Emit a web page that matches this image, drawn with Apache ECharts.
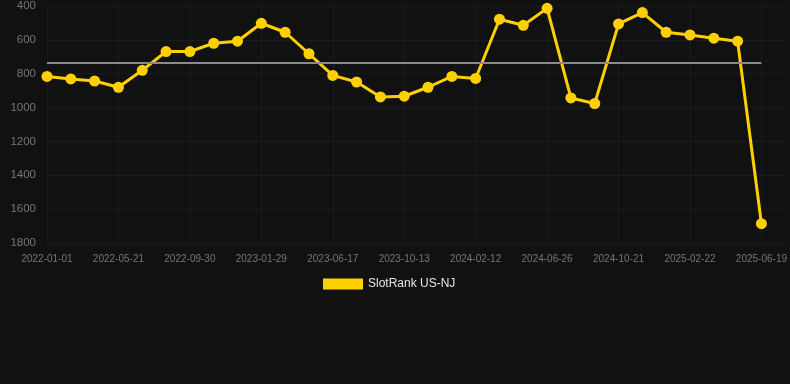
<!DOCTYPE html>
<html>
<head>
<meta charset="utf-8">
<script src="https://cdn.jsdelivr.net/npm/echarts@6/dist/echarts.min.js"></script>
<style>
html,body{margin:0;padding:0;background:#111111;}
#c{width:790px;height:384px;}
</style>
</head>
<body>
<div id="c"></div>
<script>
const categories = [
  '2022-01-01','2022-02-16','2022-04-03','2022-05-21','2022-07-04','2022-08-17',
  '2022-09-30','2022-11-09','2022-12-19','2023-01-29','2023-03-16','2023-05-01',
  '2023-06-17','2023-07-26','2023-09-04','2023-10-13','2023-11-23','2024-01-02',
  '2024-02-12','2024-03-28','2024-05-12','2024-06-26','2024-08-04','2024-09-12',
  '2024-10-21','2024-12-02','2025-01-12','2025-02-22','2025-04-01','2025-05-10',
  '2025-06-19'
];
const rankValues = [
  816, 831, 843, 880, 780, 669, 669, 620, 608, 502, 555, 682,
  810, 849, 937, 933, 880, 816, 828, 478, 514, 414, 943, 976,
  506, 439, 555, 571, 590, 608, 1686
];
const seriesName = 'SlotRank US-NJ';
const yTicks = { min: 400, max: 1800, interval: 200 };

const avg = rankValues.reduce((a, b) => a + b, 0) / rankValues.length;

const chart = echarts.init(document.getElementById('c'), null, { renderer: 'canvas' });
chart.setOption({
  backgroundColor: '#111111',
  animation: false,
  grid: { left: 47, right: 4, top: 6, bottom: 141 },
  legend: {
    data: [seriesName],
    top: 273,
    left: 318,
    itemWidth: 40,
    itemHeight: 11,
    itemGap: 10,
    icon: 'rect',
    textStyle: { color: '#e6e6e6', fontSize: 12, fontFamily: 'Liberation Sans, Arial, sans-serif' }
  },
  xAxis: {
    type: 'category',
    data: categories,
    boundaryGap: false,
    max: categories.length,
    axisLine: { show: false },
    axisTick: { show: false },
    axisLabel: { interval: 2, color: '#767676', fontSize: 10, margin: 11, fontFamily: 'Liberation Sans, Arial, sans-serif' },
    splitLine: { show: true, interval: 2, lineStyle: { color: '#1b1b1b', width: 1 } }
  },
  yAxis: {
    type: 'value',
    inverse: true,
    min: yTicks.min,
    max: yTicks.max,
    interval: yTicks.interval,
    axisLine: { show: false },
    axisTick: { show: false },
    axisLabel: { color: '#767676', fontSize: 11.5, margin: 11, formatter: v => String(v), fontFamily: 'Liberation Sans, Arial, sans-serif' },
    splitLine: { show: true, lineStyle: { color: '#1b1b1b', width: 1 } }
  },
  series: [{
    name: seriesName,
    type: 'line',
    data: rankValues,
    color: '#FFD000',
    lineStyle: { width: 3, color: '#FFD000' },
    itemStyle: { color: '#FFD000' },
    symbol: 'circle',
    symbolSize: 11,
    markLine: {
      silent: true,
      symbol: ['none', 'none'],
      label: { show: false },
      lineStyle: { color: '#8a8a8a', width: 2, type: 'solid' },
      data: [[
        { coord: [categories[0], avg] },
        { coord: [categories[categories.length - 1], avg] }
      ]]
    }
  }]
});
</script>
</body>
</html>
